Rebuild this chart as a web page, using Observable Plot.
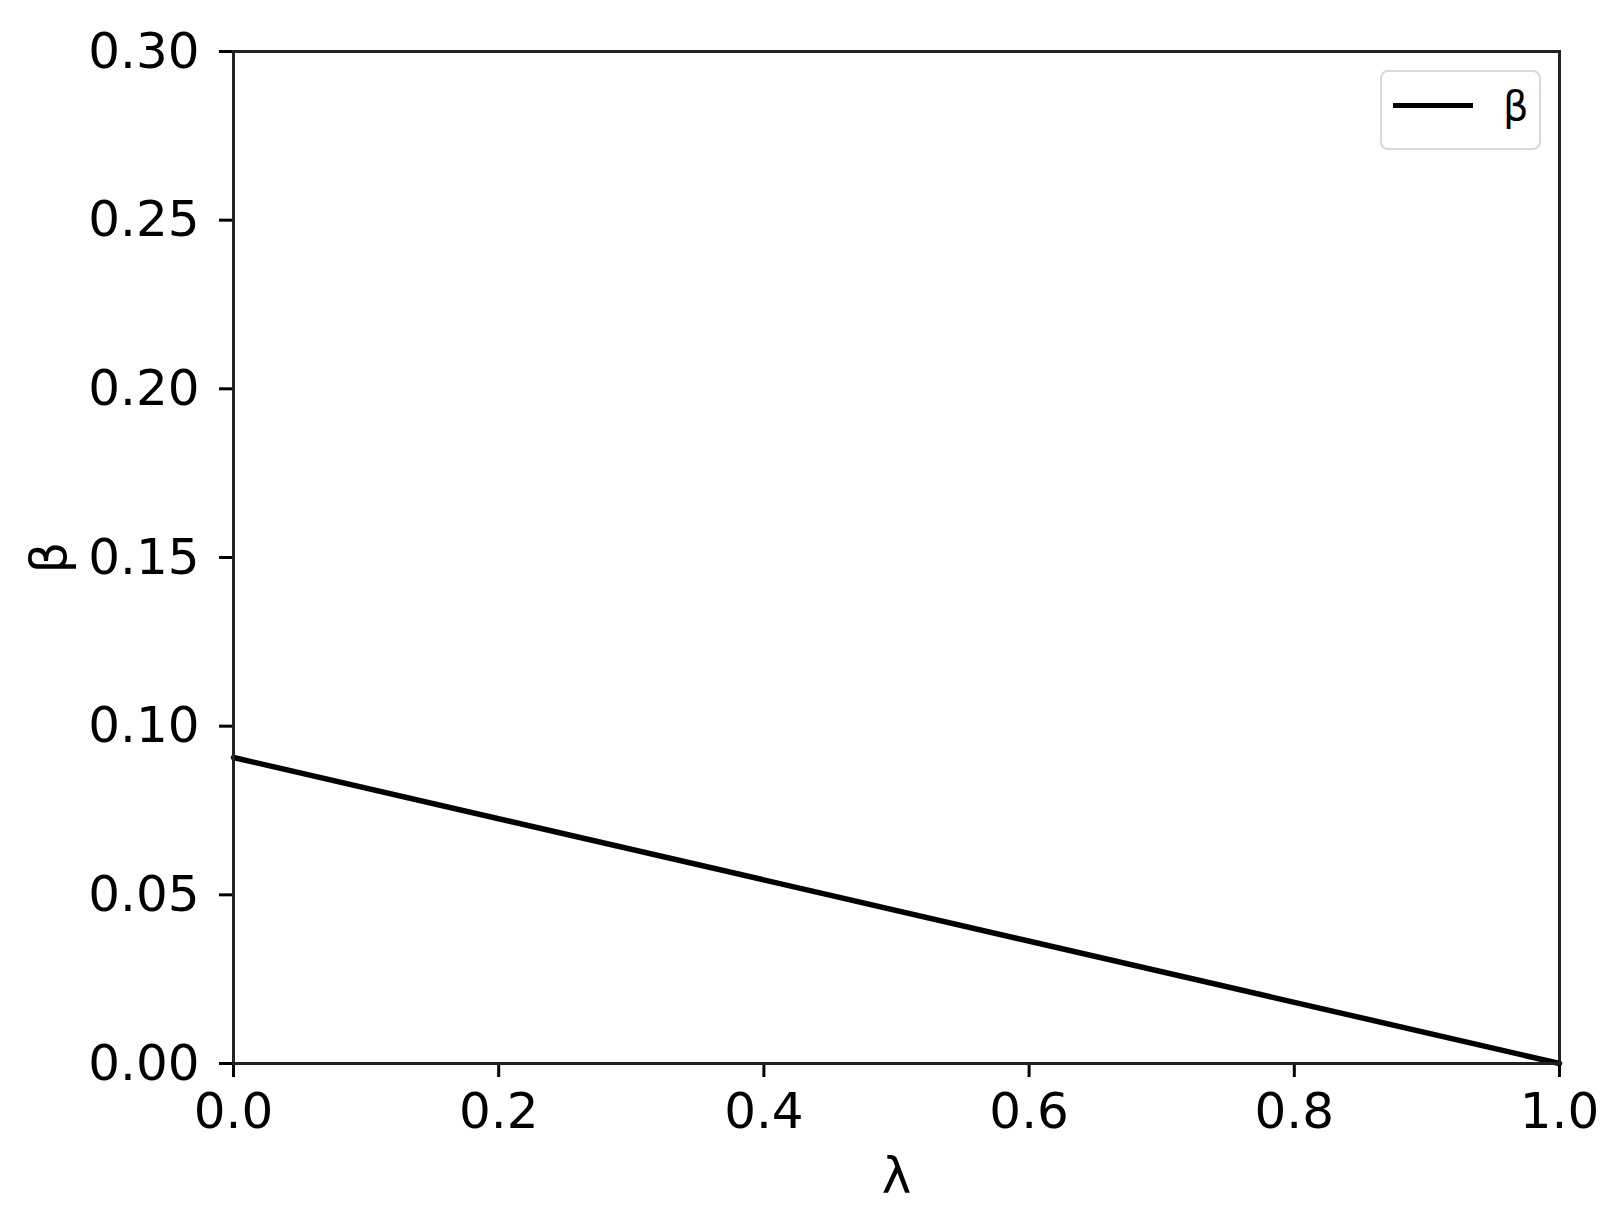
<!DOCTYPE html>
<html>
<head>
<meta charset="utf-8">
<script src="https://cdn.jsdelivr.net/npm/d3@7"></script>
<script src="https://cdn.jsdelivr.net/npm/@observablehq/plot@0.6"></script>
<style>
  html, body { margin: 0; padding: 0; background: #fff; }
  #wrap { position: relative; width: 1617px; height: 1213px; font-family: "DejaVu Sans", sans-serif; }
  #legend { position: absolute; left: 1380px; top: 70px; width: 157px; height: 76px;
            border: 2px solid #d9d9d9; border-radius: 8px; background: rgba(255,255,255,0.8); box-sizing: content-box; }
  #legend .swatch { position: absolute; left: 11px; top: 31px; width: 80px; height: 5px; background: #000; }
  #legend .lab { position: absolute; left: 121px; top: 9px; font-size: 40px; line-height: 50px; color: #000; }
</style>
</head>
<body>
<div id="wrap"></div>
<script>
// data
const lambdaValues = [0.0, 1.0];
const betaValues = [0.0907, 0.0];
const xTicks = [0.0, 0.2, 0.4, 0.6, 0.8, 1.0];
const yTicks = [0.00, 0.05, 0.10, 0.15, 0.20, 0.25, 0.30];
const seriesName = "β";
const xLabel = "λ";
const yLabel = "β";

const rows = lambdaValues.map((l, i) => ({lambda: l, beta: betaValues[i]}));

const chart = Plot.plot({
  width: 1617,
  height: 1213,
  marginLeft: 233,
  marginRight: 58,
  marginTop: 51,
  marginBottom: 150,
  style: {fontFamily: "DejaVu Sans, sans-serif", background: "#fff", color: "#000"},
  x: {domain: [0, 1]},
  y: {domain: [0, 0.3]},
  marks: [
    Plot.axisX({ticks: xTicks, tickFormat: d3.format(".1f"), tickSize: 14, tickPadding: 15,
      fontSize: 50, strokeWidth: 3, label: xLabel, labelAnchor: "center", labelArrow: "none", labelOffset: 129}),
    Plot.axisY({ticks: yTicks, tickFormat: d3.format(".2f"), tickSize: 14, tickPadding: 20,
      fontSize: 50, strokeWidth: 3, label: yLabel, labelAnchor: "center", labelArrow: "none", labelOffset: 203}),
    Plot.line(rows, {x: "lambda", y: "beta", stroke: "#000", strokeWidth: 5.5}),
    Plot.frame({stroke: "#222", strokeWidth: 3})
  ]
});

const wrap = document.getElementById("wrap");
wrap.appendChild(chart);
const leg = document.createElement("div");
leg.id = "legend";
leg.innerHTML = `<div class="swatch"></div><div class="lab">${seriesName}</div>`;
wrap.appendChild(leg);
</script>
</body>
</html>
